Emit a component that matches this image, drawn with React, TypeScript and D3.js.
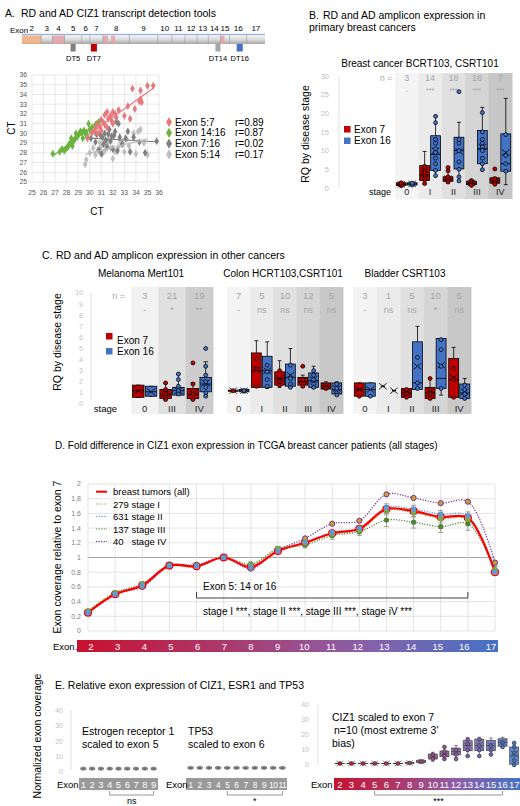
import React from 'react';
import * as d3 from 'd3';

type Stat = [number, number, number, number, number, number]; // min, q1, median, q3, max, mean
type Pt = [number, number];

const FONT = "'Liberation Sans', Arial, Helvetica, sans-serif";
const RED = '#C00000';
const BLUE = '#4472C4';

// ---- A. gene model and detection amplicons
const geneExons = ['2', '3', '4', '5', '6', '7', '8', '9', '10', '11', '12', '13', '14', '15', '16', '17'];
const geneExonLengths = [19, 11, 12, 17, 8, 13, 26, 28, 14, 13, 12, 11, 12, 9, 17, 18];
const geneMarks: [number, number, string][] = [[0, 19, '#F4B183'], [30, 42, '#E6A5AC'], [80, 85, '#E6A5AC'], [88, 92, '#E6A5AC'], [196, 200, '#E6A5AC']];
const probes = [
  { name: 'DT5', from: 48, to: 53, color: '#808080' },
  { name: 'DT7', from: 68, to: 74, color: '#C00000' },
  { name: 'DT14', from: 191, to: 196, color: '#A6A6A6' },
  { name: 'DT16', from: 212, to: 218, color: '#4472C4' },
];

// ---- A. CT scatter
const ct57: Pt[] = [[35.5, 34.9], [35, 34.9], [34.4, 34.4], [33.7, 34.6], [34.4, 33.5], [34.5, 33.2], [34.3, 33.3], [33.9, 32.5], [33.3, 32.8], [33, 31.8], [33.5, 31.5], [32.5, 32.4], [32, 32.2], [32.2, 32], [31.8, 31.8], [31.5, 32.2], [31.3, 31.9], [31, 31.4], [31.6, 31.5], [32.3, 31.6], [31.9, 31.3], [31.2, 31.1], [30.8, 30.8], [30.5, 30.5], [30.2, 30.1], [29.8, 29.5], [30.7, 30], [31, 30.3], [30.4, 30.2], [31.5, 30.6], [30.9, 30.6], [32, 31], [30.6, 31], [31.3, 30.9]];
const ct1416: Pt[] = [[26.8, 27.9], [27.4, 28.1], [27.8, 28.2], [28, 28.5], [28.2, 28.8], [28.3, 29], [28.5, 28.7], [28.6, 29.2], [28.7, 29.4], [28.9, 29.6], [29, 29.8], [29.1, 30], [29.3, 30.1], [29.5, 30.3], [29.6, 30], [29.2, 30.2], [29.8, 29.6], [30, 30.4], [30.2, 30.6], [30.5, 30.9], [30.8, 31.2], [29.9, 31], [28.4, 29.5], [28.8, 30], [27.6, 28.4], [29.4, 29.5], [28.1, 28.6], [29.7, 30.1]];
const ct716: Pt[] = [[30.1, 29.5], [30.5, 29.1], [30.8, 28.3], [30.9, 29.9], [31.1, 29.6], [31.2, 28.9], [31.3, 30], [31.4, 29.3], [31.5, 28.6], [31.6, 29.9], [31.7, 30.4], [31.8, 29.2], [32, 28.4], [32.1, 29.8], [32.2, 30.2], [32.3, 31.2], [32.5, 31], [32.6, 29.6], [32.8, 28.9], [33.1, 29.5], [33.5, 28.1], [33.8, 29.6], [34.3, 29.1], [34.8, 28], [35.8, 29.2], [31.9, 29.7], [31, 27.9], [32.4, 28.2], [33.3, 30.2], [30.6, 29.9]];
const ct514: Pt[] = [[29.6, 26.8], [29.7, 27.3], [30, 28], [30.3, 28.5], [30.5, 27.8], [30.7, 28.3], [31, 28.7], [31.1, 27.9], [31.3, 28.2], [31.5, 28.9], [31.8, 28.5], [32, 27.4], [32.2, 28.1], [32.5, 28.6], [32.6, 29.3], [32.9, 28.9], [33.2, 29.4], [33.4, 28.7], [33.8, 30], [34.2, 30.2], [34.4, 30.4], [34.7, 29], [35, 27.8], [34, 27.9], [33, 28.1], [31.6, 29.2], [30.9, 29], [32.1, 29.7]];
const ctSeries = [
  { name: 'Exon 5:7', r: 'r=0.89', color: '#E8787C', pts: ct57 },
  { name: 'Exon 14:16', r: 'r=0.87', color: '#6BB33F', pts: ct1416 },
  { name: 'Exon 7:16', r: 'r=0.02', color: '#808080', pts: ct716 },
  { name: 'Exon 5:14', r: 'r=0.17', color: '#BFBFBF', pts: ct514 },
];

// ---- B. breast cancer RQ
const breastStages = ['0', 'I', 'II', 'III', 'IV'];
const breastN = ['3', '14', '18', '18', '7'];
const breastSig = ['-', '***', '***', '***', '***'];
const breastExon7: Stat[] = [[0.5, 0.7, 1.0, 1.4, 1.6, 1.0], [1.0, 2.0, 3.5, 6.0, 9.8, 3.8], [1.3, 1.8, 2.3, 3.0, 5.5, 2.5], [0.6, 0.9, 1.2, 1.8, 2.2, 1.3], [1.0, 1.3, 2.0, 2.7, 2.9, 2.0]];
const breastExon7Pts = [[0.6, 1.0, 1.4], [1.2, 2.2, 3.0, 3.6, 4.2, 5.2, 5.8], [5.5, 4.6, 3.0, 2.2, 1.6], [2.0, 1.5, 1.0, 0.7], [5.1, 2.5, 1.5, 1.0]];
const breastExon16: Stat[] = [[0.6, 0.8, 1.1, 1.4, 1.6, 1.1], [3.3, 4.7, 9.0, 14.0, 19.2, 10.0], [1.9, 5.1, 10.0, 13.6, 17.6, 9.8], [4.9, 6.5, 10.5, 15.4, 21.6, 11.0], [0.9, 4.5, 6.5, 14.5, 24.0, 9.5]];
const breastExon16Pts = [[0.8, 1.3], [19.2, 17.5, 13.0, 12.0, 10.5, 9.5, 8.0, 6.5, 4.7, 3.3], [25.8, 13.0, 12.0, 10.0, 7.0, 5.0, 3.0, 1.9], [20.2, 15.0, 13.0, 12.0, 11.0, 10.0, 8.0, 6.5, 4.9], [14.3, 8.7, 6.5, 4.5]];

// ---- C. other cancers RQ
const melStages = ['0', 'III', 'IV'];
const melN = ['3', '21', '19'];
const melSig = ['-', '*', '**'];
const melExon7: Stat[] = [[0.6, 0.6, 1.2, 1.7, 1.7, 1.2], [0.4, 0.5, 0.9, 1.3, 1.9, 1.0], [0.4, 0.5, 0.9, 1.4, 1.9, 1.0]];
const melExon7Pts = [[], [1.9, 1.3, 0.9, 0.6, 0.4], [3.7, 1.8, 0.9, 0.4]];
const melExon16: Stat[] = [[0.7, 0.7, 1.1, 1.6, 1.6, 1.1], [0.8, 0.8, 1.2, 1.5, 2.7, 1.2], [0.7, 1.1, 1.8, 2.4, 3.8, 1.9]];
const melExon16Pts = [[], [2.7, 2.2, 1.6, 1.2, 0.9], [5.0, 3.4, 2.6, 2.0, 1.5, 1.0, 0.7]];

const colonStages = ['0', 'I', 'II', 'III', 'IV'];
const colonN = ['7', '5', '10', '12', '5'];
const colonSig = ['-', 'ns', 'ns', 'ns', 'ns'];
const colonExon7: Stat[] = [[1.1, 1.15, 1.2, 1.25, 1.3, 1.2], [1.5, 1.5, 3.0, 4.6, 5.7, 3.1], [1.5, 1.7, 2.3, 2.9, 3.9, 2.3], [1.5, 1.7, 2.0, 2.4, 2.6, 2.1], [1.3, 1.35, 1.6, 1.9, 2.0, 1.6]];
const colonExon7Pts = [[1.2], [4.1, 3.2, 1.6], [3.0, 2.0, 1.7], [3.4, 2.2, 1.6], [1.5, 1.4]];
const colonExon16: Stat[] = [[1.0, 1.1, 1.2, 1.3, 1.35, 1.2], [1.4, 1.5, 3.0, 4.3, 5.6, 3.0], [1.5, 1.6, 2.4, 3.6, 5.0, 2.6], [1.4, 1.5, 2.1, 2.8, 3.4, 2.2], [0.8, 0.9, 1.3, 1.9, 2.0, 1.4]];
const colonExon16Pts = [[1.2], [3.5, 2.9, 2.2, 1.6], [3.5, 2.3, 1.8, 1.5], [3.0, 2.6, 2.2, 1.8, 1.5], [1.8, 1.4, 1.0, 0.8]];

const bladderStages = ['0', 'I', 'II', 'III', 'IV'];
const bladderN = ['3', '1', '5', '10', '5'];
const bladderSig = ['-', 'ns', 'ns', '*', 'ns'];
const bladderExon7: Stat[] = [[0.7, 0.7, 1.3, 1.9, 1.9, 1.3], [1.6, 1.6, 1.6, 1.6, 1.6, 1.6], [0.6, 0.6, 1.0, 1.4, 1.4, 1.0], [0.4, 0.5, 1.0, 1.5, 2.3, 1.0], [0.6, 0.6, 2.2, 4.1, 5.1, 2.4]];
const bladderExon7Pts = [[0.7], [], [1.3, 0.9, 0.6], [2.3, 1.3, 0.9, 0.5], [3.2, 2.2, 0.6]];
const bladderExon16: Stat[] = [[0.7, 0.7, 1.3, 1.9, 1.9, 1.3], [1.2, 1.2, 1.2, 1.2, 1.2, 1.2], [1.3, 1.3, 1.9, 5.6, 7.0, 3.4], [0.8, 1.4, 2.3, 5.9, 5.9, 3.5], [0.4, 0.5, 1.0, 1.8, 2.3, 1.1]];
const bladderExon16Pts = [[0.7], [], [4.2, 1.9, 1.4], [5.8, 4.9, 3.4, 1.4], [1.7, 1.3, 0.9, 0.5]];

// ---- D. TCGA exon coverage relative to exon 7
const tcgaExons = [2, 3, 4, 5, 6, 7, 8, 9, 10, 11, 12, 13, 14, 15, 16, 17];
const tcgaAll = [0.25, 0.50, 0.62, 0.89, 0.88, 1.00, 0.87, 1.09, 1.20, 1.33, 1.39, 1.66, 1.63, 1.55, 1.54, 0.80];
const tcgaStageI = [0.27, 0.52, 0.64, 0.89, 0.89, 1.00, 0.90, 1.12, 1.20, 1.32, 1.37, 1.64, 1.61, 1.53, 1.52, 0.84];
const tcgaStageII = [0.25, 0.50, 0.62, 0.89, 0.88, 1.00, 0.87, 1.09, 1.21, 1.34, 1.40, 1.68, 1.66, 1.59, 1.57, 0.80];
const tcgaStageIII = [0.27, 0.52, 0.64, 0.90, 0.89, 1.00, 0.91, 1.12, 1.17, 1.30, 1.35, 1.51, 1.48, 1.42, 1.46, 0.83];
const tcgaStageIV = [0.25, 0.50, 0.60, 0.89, 0.90, 1.00, 0.85, 1.10, 1.26, 1.46, 1.50, 1.86, 1.81, 1.74, 1.76, 0.93];
const tcgaErrI = [0.01, 0.02, 0.02, 0.02, 0.02, 0, 0.02, 0.03, 0.03, 0.04, 0.04, 0.06, 0.06, 0.06, 0.06, 0.04];
const tcgaErrII = [0.01, 0.01, 0.01, 0.01, 0.01, 0, 0.02, 0.02, 0.03, 0.03, 0.03, 0.05, 0.05, 0.05, 0.05, 0.03];
const tcgaErrIII = [0.02, 0.02, 0.02, 0.02, 0.02, 0, 0.03, 0.03, 0.04, 0.05, 0.05, 0.09, 0.08, 0.08, 0.09, 0.05];

// ---- E. normalized exon coverage
const esr1Exons = ['1', '2', '3', '4', '5', '6', '7', '8', '9'];
const esr1Stats: Stat[] = [[1, 1.5, 2, 2.5, 3, 2], [1, 1.5, 2, 2.5, 3, 2], [1, 1.5, 2, 2.5, 3, 2], [1, 1.5, 2, 2.5, 3, 2], [1, 1.5, 2, 2.5, 3, 2], [1, 1.5, 2, 2.5, 3, 2], [1, 1.5, 2, 2.5, 3, 2], [1, 1.5, 2, 2.5, 3, 2], [1, 1.5, 2, 2.5, 3, 2]];
const tp53Exons = ['1', '2', '3', '4', '5', '6', '7', '8', '9', '10', '11'];
const tp53Stats: Stat[] = [[1.5, 2, 2.5, 3, 3.5, 2.5], [1.5, 2, 2.5, 3, 3.5, 2.5], [1.5, 2, 2.5, 3, 3.5, 2.5], [1.5, 2, 2.5, 3, 3.5, 2.5], [1.5, 2, 2.5, 3, 3.5, 2.5], [1.5, 2, 2.5, 3, 3.5, 2.5], [1.5, 2, 2.5, 3, 3.5, 2.5], [1.5, 2, 2.5, 3, 3.5, 2.5], [1.5, 2, 2.5, 3, 3.5, 2.5], [1.5, 2, 2.5, 3, 3.5, 2.5], [1.5, 2, 2.5, 3, 3.5, 2.5]];
const ciz1Exons = ['2', '3', '4', '5', '6', '7', '8', '9', '10', '11', '12', '13', '14', '15', '16', '17'];
const ciz1Stats: Stat[] = [[0.6, 0.8, 1, 1.2, 1.5, 1], [0.6, 0.8, 1, 1.2, 1.5, 1], [0.6, 0.8, 1, 1.2, 1.5, 1], [0.6, 0.8, 1, 1.2, 1.5, 1], [0.6, 0.8, 1, 1.2, 1.5, 1], [0.6, 0.8, 1, 1.2, 1.5, 1], [0.8, 1, 1.3, 1.6, 2, 1.3], [1.2, 1.6, 2.2, 3, 3.6, 2.3], [2.5, 4, 5.5, 7.3, 8.5, 5.6], [4, 5.5, 7.5, 9.3, 12, 7.7], [4, 6.7, 9, 11.3, 13, 9.2], [6, 9.5, 13, 16.2, 18, 13], [6, 9.5, 13, 17.3, 18.5, 13.3], [7, 9.5, 13, 16.5, 18, 13], [12, 12.5, 15, 17.5, 18.5, 15], [0, 0.5, 6, 12, 14.7, 7.5]];
const ciz1Pts = [[1], [1], [1], [1], [1], [1], [1.3], [2.2], [4, 7], [4, 6, 9, 12], [4, 7, 10], [6, 10, 14, 17], [6, 10, 13, 17], [7, 10, 13], [12, 15], [0, 3, 8, 12, 14.7]];

const exonColor = d3.piecewise(d3.interpolateRgb, ['#C8102E', '#AD3768', '#8C5FA8', '#4472C4']);

function BoxMark(props: { cx: number; w: number; y: d3.ScaleLinear<number, number>; s: Stat; fill: string; pts: number[]; r?: number; stroke?: string; sw?: number; op?: number }) {
  const { cx, w, y, s, fill, pts } = props;
  const r = props.r ?? 2;
  const stroke = props.stroke ?? '#000';
  const sw = props.sw ?? 0.8;
  const [mn, q1, md, q3, mx, mean] = s;
  const xs = w * 0.38;
  const ym = y(mean);
  const cap = w * 0.2;
  return (
    <g>
      <line x1={cx} x2={cx} y1={y(mx)} y2={y(mn)} stroke={stroke} strokeWidth={sw} />
      <line x1={cx - cap} x2={cx + cap} y1={y(mx)} y2={y(mx)} stroke={stroke} strokeWidth={sw} />
      <line x1={cx - cap} x2={cx + cap} y1={y(mn)} y2={y(mn)} stroke={stroke} strokeWidth={sw} />
      {q3 > q1 && <rect x={cx - w / 2} width={w} y={y(q3)} height={y(q1) - y(q3)} fill={fill} fillOpacity={props.op ?? 1} stroke={stroke} strokeWidth={sw} />}
      {q3 > q1 && <line x1={cx - w / 2} x2={cx + w / 2} y1={y(md)} y2={y(md)} stroke={stroke} strokeWidth={sw} />}
      <path d={`M${cx - xs},${ym - xs * 0.8}L${cx + xs},${ym + xs * 0.8}M${cx - xs},${ym + xs * 0.8}L${cx + xs},${ym - xs * 0.8}`} stroke={stroke} strokeWidth={sw} fill="none" />
      {pts.map((p, i) => <circle key={i} cx={cx} cy={y(p)} r={r} fill={fill} stroke={stroke} strokeWidth={0.7} />)}
    </g>
  );
}

function StagePanel(p: {
  stages: string[]; x0: number; x1: number; top: number; bottom: number; y: d3.ScaleLinear<number, number>;
  shades: string[]; n: string[]; sig: string[]; e7: Stat[]; e7pts: number[][]; e16: Stat[]; e16pts: number[][];
  nY: number; sigY: number; stageY: number; nSize: number; sigSize: number; stageSize: number;
}) {
  const band = d3.scaleBand<string>().domain(p.stages).range([p.x0, p.x1]);
  const sub = d3.scaleBand<string>().domain(['7', '16']).range([0, band.bandwidth()]).paddingInner(0.1).paddingOuter(0.12);
  const bw = sub.bandwidth();
  return (
    <g>
      {p.stages.map((s, i) => (
        <rect key={s} x={band(s)!} y={p.top} width={band.bandwidth() + 0.5} height={p.bottom - p.top} fill={p.shades[i]} />
      ))}
      {p.stages.map((s, i) => {
        const c = band(s)! + band.bandwidth() / 2;
        return (
          <g key={s} textAnchor="middle">
            <text x={c} y={p.nY} fontSize={p.nSize} fill="#A6A6A6">{p.n[i]}</text>
            <text x={c} y={p.sigY} fontSize={p.sigSize} fill="#A6A6A6">{p.sig[i]}</text>
            <text x={c} y={p.stageY} fontSize={p.stageSize} fill="#222">{s}</text>
          </g>
        );
      })}
      {p.stages.map((s, i) => (
        <g key={s}>
          <BoxMark cx={band(s)! + sub('7')! + bw / 2} w={bw} y={p.y} s={p.e7[i]} fill={RED} pts={p.e7pts[i]} />
          <BoxMark cx={band(s)! + sub('16')! + bw / 2} w={bw} y={p.y} s={p.e16[i]} fill={BLUE} pts={p.e16pts[i]} />
        </g>
      ))}
    </g>
  );
}

function fit(pts: Pt[]) {
  const mx = d3.mean(pts, d => d[0])!;
  const my = d3.mean(pts, d => d[1])!;
  let sxy = 0;
  let sxx = 0;
  pts.forEach(([a, b]) => { sxy += (a - mx) * (b - my); sxx += (a - mx) * (a - mx); });
  const k = sxy / sxx;
  const [x0, x1] = d3.extent(pts, d => d[0]) as [number, number];
  return { x0, x1, y0: my + k * (x0 - mx), y1: my + k * (x1 - mx) };
}

function PanelA() {
  const total = d3.sum(geneExonLengths);
  const g = d3.scaleLinear().domain([0, total]).range([22, 265]);
  const starts = [0];
  geneExonLengths.forEach(l => starts.push(starts[starts.length - 1] + l));
  const x = d3.scaleLinear().domain([25, 36]).range([32, 159]);
  const y = d3.scaleLinear().domain([25, 36]).range([182, 75]);
  const ticks = d3.range(25, 37);
  const diamond = d3.symbol(d3.symbolDiamond, 18)()!;
  return (
    <g>
      <text x={5} y={17} fontSize={10.5}>A.</text>
      <text x={21} y={17} fontSize={10.5}>RD and AD CIZ1 transcript detection tools</text>
      <defs>
        <linearGradient id="tube" x1="0" x2="0" y1="0" y2="1">
          <stop offset="0" stopColor="#C9D9F0" />
          <stop offset="0.2" stopColor="#F2F2F2" />
          <stop offset="0.6" stopColor="#D6D6D6" />
          <stop offset="1" stopColor="#A6A6A6" />
        </linearGradient>
      </defs>
      <text x={10} y={33} fontSize={8}>Exon</text>
      <rect x={g(0)} y={34} width={g(total) - g(0)} height={10} fill="url(#tube)" />
      {geneMarks.map(([a, b, c], i) => <rect key={i} x={g(a)} y={35.5} width={g(b) - g(a)} height={8} fill={c} opacity={0.9} />)}
      {starts.slice(1, -1).map((s, i) => <line key={i} x1={g(s)} x2={g(s)} y1={35} y2={44} stroke="#9A9A9A" strokeWidth={0.6} />)}
      <line x1={g(0)} x2={g(total)} y1={34.3} y2={34.3} stroke="#8FAADC" strokeWidth={1} />
      {geneExons.map((e, i) => <text key={e} x={g(starts[i] + geneExonLengths[i] / 2)} y={31} fontSize={8} textAnchor="middle">{e}</text>)}
      {probes.map(p => (
        <g key={p.name}>
          <rect x={g(p.from)} y={44} width={g(p.to) - g(p.from)} height={7.5} fill={p.color} />
          <text x={g((p.from + p.to) / 2)} y={61} fontSize={7.5} textAnchor="middle">{p.name}</text>
        </g>
      ))}
      {ticks.map(t => (
        <g key={t}>
          <line x1={x(t)} x2={x(t)} y1={y(25)} y2={y(36)} stroke="#D9D9D9" strokeWidth={0.6} />
          <line x1={x(25)} x2={x(36)} y1={y(t)} y2={y(t)} stroke="#D9D9D9" strokeWidth={0.6} />
          <text x={27} y={y(t) + 2.4} fontSize={6.8} textAnchor="end" fill="#595959">{t}</text>
          <text x={x(t)} y={194.5} fontSize={6.8} textAnchor="middle" fill="#595959">{t}</text>
        </g>
      ))}
      {ctSeries.slice().reverse().map(s => (
        <g key={s.name}>
          {s.pts.map((d, i) => <path key={i} d={diamond} transform={`translate(${x(d[0])},${y(d[1])})`} fill={s.color} />)}
        </g>
      ))}
      {ctSeries.map(s => {
        const f = fit(s.pts);
        return <line key={s.name} x1={x(f.x0)} x2={x(f.x1)} y1={y(f.y0)} y2={y(f.y1)} stroke={s.color} strokeWidth={1.1} />;
      })}
      <text transform="translate(11,128) rotate(-90)" fontSize={10} textAnchor="middle" dominantBaseline="central">CT</text>
      <text x={97} y={214.5} fontSize={10} textAnchor="middle">CT</text>
      {ctSeries.map((s, i) => (
        <g key={s.name}>
          <path d={d3.symbol(d3.symbolDiamond, 30)()!} transform={`translate(169,${122 + i * 10.8})`} fill={s.color} />
          <text x={175} y={125.5 + i * 10.8} fontSize={10}>{s.name}</text>
          <text x={235} y={125.5 + i * 10.8} fontSize={10}>{s.r}</text>
        </g>
      ))}
    </g>
  );
}

function PanelB() {
  const y = d3.scaleLinear().domain([0, 30]).range([188, 76]);
  return (
    <g>
      <text x={309} y={19} fontSize={10.5}>B.</text>
      <text x={323} y={19} fontSize={10.5}>RD and AD amplicon expression in</text>
      <text x={309} y={31} fontSize={10.5}>primary breast cancers</text>
      <text x={420} y={67} fontSize={10} textAnchor="middle">Breast cancer BCRT103, CSRT101</text>
      <StagePanel stages={breastStages} x0={395} x1={512} top={73} bottom={199} y={y}
        shades={['#F4F4F4', '#EBEBEB', '#E0E0E0', '#D4D4D4', '#C6C6C6']} n={breastN} sig={breastSig}
        e7={breastExon7} e7pts={breastExon7Pts} e16={breastExon16} e16pts={breastExon16Pts}
        nY={81} sigY={93} stageY={195} nSize={9} sigSize={7} stageSize={9} />
      <text x={392} y={81} fontSize={8.5} fill="#A6A6A6" textAnchor="end">n =</text>
      <line x1={339} x2={339} y1={76} y2={188} stroke="#D9D9D9" strokeWidth={0.8} />
      {y.ticks(6).map(t => <text key={t} x={329} y={y(t) + 2.6} fontSize={7.5} fill="#BFBFBF" textAnchor="end">{t}</text>)}
      <text transform="translate(305,134) rotate(-90)" fontSize={10.5} textAnchor="middle" dominantBaseline="central">RQ by disease stage</text>
      <text x={391} y={195} fontSize={9} textAnchor="end">stage</text>
      <rect x={344} y={126} width={6.5} height={6.5} fill={RED} />
      <text x={354} y={132.5} fontSize={10}>Exon 7</text>
      <rect x={344} y={137.5} width={6.5} height={6.5} fill={BLUE} />
      <text x={354} y={144} fontSize={10}>Exon 16</text>
    </g>
  );
}

function PanelC() {
  const y = d3.scaleLinear().domain([0, 10]).range([404, 293]);
  const common = { top: 287, bottom: 414, y, nY: 298.5, sigY: 312.5, stageY: 411.5, nSize: 9.5, sigSize: 9, stageSize: 9.5 };
  return (
    <g>
      <text x={42} y={259} fontSize={10.5}>C.</text>
      <text x={56} y={259} fontSize={10.5}>RD and AD amplicon expression in other cancers</text>
      <text x={141} y={277} fontSize={10} textAnchor="middle">Melanoma Mert101</text>
      <text x={283} y={277} fontSize={10} textAnchor="middle">Colon HCRT103,CSRT101</text>
      <text x={405} y={277} fontSize={10} textAnchor="middle">Bladder CSRT103</text>
      <StagePanel {...common} stages={melStages} x0={131} x1={213} shades={['#F2F2F2', '#E0E0E0', '#CDCDCD']}
        n={melN} sig={melSig} e7={melExon7} e7pts={melExon7Pts} e16={melExon16} e16pts={melExon16Pts} />
      <StagePanel {...common} stages={colonStages} x0={227} x1={343} shades={['#F4F4F4', '#EBEBEB', '#E0E0E0', '#D5D5D5', '#C8C8C8']}
        n={colonN} sig={colonSig} e7={colonExon7} e7pts={colonExon7Pts} e16={colonExon16} e16pts={colonExon16Pts} />
      <StagePanel {...common} stages={bladderStages} x0={353} x1={471} shades={['#F4F4F4', '#EBEBEB', '#E0E0E0', '#D5D5D5', '#C8C8C8']}
        n={bladderN} sig={bladderSig} e7={bladderExon7} e7pts={bladderExon7Pts} e16={bladderExon16} e16pts={bladderExon16Pts} />
      <text x={125} y={298.5} fontSize={9} fill="#A6A6A6" textAnchor="end">n =</text>
      <line x1={91} x2={91} y1={293} y2={400} stroke="#D9D9D9" strokeWidth={0.8} />
      {y.ticks(10).map(t => <text key={t} x={83} y={y(t) + 2.4} fontSize={7} fill="#BFBFBF" textAnchor="end">{t}</text>)}
      <text transform="translate(57,342) rotate(-90)" fontSize={10.5} textAnchor="middle" dominantBaseline="central">RQ by disease stage</text>
      <text x={117} y={411.5} fontSize={9.5} textAnchor="end">stage</text>
      <rect x={106} y={333} width={6.5} height={6.5} fill={RED} />
      <text x={117} y={343.5} fontSize={10}>Exon 7</text>
      <rect x={106} y={348} width={6.5} height={6.5} fill={BLUE} />
      <text x={117} y={355} fontSize={10}>Exon 16</text>
    </g>
  );
}

function PanelD() {
  const x = d3.scaleLinear().domain([2, 17]).range([88, 495]);
  const y = d3.scaleLinear().domain([0, 2]).range([631, 484]);
  const lx = d3.scaleLinear().domain([2, 17]).range([91, 491]);
  const line = d3.line<number>().x((_, i) => x(tcgaExons[i])).y(d => y(d)).curve(d3.curveCatmullRom);
  const stages = [
    { label: '279 stage I', v: tcgaStageI, err: tcgaErrI, color: '#70AD47', dash: '1.2,1.4' },
    { label: '631 stage II', v: tcgaStageII, err: tcgaErrII, color: '#5B9BD5', dash: '1.2,1.4' },
    { label: '137 stage III', v: tcgaStageIII, err: tcgaErrIII, color: '#548235', dash: '1.2,1.4' },
    { label: '40   stage IV', v: tcgaStageIV, err: null as number[] | null, color: '#7030A0', dash: '1.2,1.4' },
  ];
  const yTicks = [0, 0.2, 0.4, 0.6, 0.8, 1, 1.2, 1.4, 1.6, 1.8, 2];
  return (
    <g>
      <text x={55} y={449} fontSize={10}>D. Fold difference in CIZ1 exon expression in TCGA breast cancer patients (all stages)</text>
      {yTicks.map(t => (
        <g key={t}>
          <line x1={x(2)} x2={x(17)} y1={y(t)} y2={y(t)} stroke={t === 1 ? '#A6A6A6' : '#D9D9D9'} strokeWidth={t === 1 ? 1 : 0.7} />
          <text x={81} y={y(t) + 2.4} fontSize={7} fill="#7F7F7F" textAnchor="end">{t}</text>
        </g>
      ))}
      {tcgaExons.map(e => <line key={e} x1={x(e)} x2={x(e)} y1={y(0)} y2={y(2)} stroke="#D9D9D9" strokeWidth={0.7} />)}
      <text transform="translate(57,557) rotate(-90)" fontSize={10.5} textAnchor="middle" dominantBaseline="central">Exon coverage relative to exon 7</text>
      {stages.map(s => s.err && s.v.map((v, i) => s.err![i] > 0 && (
        <g key={`${s.label}${i}`} stroke="#8C8C8C" strokeWidth={0.8}>
          <line x1={x(tcgaExons[i])} x2={x(tcgaExons[i])} y1={y(v + s.err![i])} y2={y(v - s.err![i])} />
          <line x1={x(tcgaExons[i]) - 2.5} x2={x(tcgaExons[i]) + 2.5} y1={y(v + s.err![i])} y2={y(v + s.err![i])} />
          <line x1={x(tcgaExons[i]) - 2.5} x2={x(tcgaExons[i]) + 2.5} y1={y(v - s.err![i])} y2={y(v - s.err![i])} />
        </g>
      )))}
      {stages.slice().reverse().map(s => <path key={s.label} d={line(s.v)!} fill="none" stroke={s.color} strokeWidth={1.2} strokeDasharray={s.dash} />)}
      <path d={line(tcgaAll)!} fill="none" stroke="#FF0000" strokeWidth={2.2} />
      {tcgaAll.map((v, i) => <circle key={i} cx={x(tcgaExons[i])} cy={y(v)} r={3.4} fill="#F4B9A8" stroke="#FF0000" strokeWidth={1.4} />)}
      {tcgaStageIV.map((v, i) => <circle key={i} cx={x(tcgaExons[i])} cy={y(v)} r={2.6} fill="#C9A227" stroke="#7030A0" strokeWidth={1} />)}
      {tcgaStageIII.map((v, i) => <circle key={i} cx={x(tcgaExons[i])} cy={y(v)} r={2.6} fill="#548235" />)}
      {tcgaStageI.map((v, i) => <circle key={i} cx={x(tcgaExons[i])} cy={y(v)} r={2.6} fill="#70AD47" />)}
      {tcgaStageII.map((v, i) => <rect key={i} x={x(tcgaExons[i]) - 2.4} y={y(v) - 2.4} width={4.8} height={4.8} fill="#5B9BD5" />)}
      <line x1={96} x2={107} y1={491.7} y2={491.7} stroke="#FF0000" strokeWidth={2} />
      <text x={113} y={495} fontSize={9.5}>breast tumors (all)</text>
      {stages.map((s, i) => (
        <g key={s.label}>
          <line x1={96} x2={107} y1={504 + i * 12.5} y2={504 + i * 12.5} stroke={s.color} strokeWidth={1.2} strokeDasharray={s.dash} />
          <text x={113} y={507.5 + i * 12.5} fontSize={9.5} xmlSpace="preserve">{s.label}</text>
        </g>
      ))}
      <text x={203} y={590} fontSize={10}>Exon 5: 14 or 16</text>
      <path d={`M${x(6)},592V598H${x(16)}V592`} fill="none" stroke="#404040" strokeWidth={1} />
      <text x={203} y={615} fontSize={10}>stage I ***, stage II ***, stage III ***, stage iV ***</text>
      <defs>
        <linearGradient id="exbar" x1="0" x2="1" y1="0" y2="0">
          {d3.range(0, 1.01, 0.1).map(t => <stop key={t} offset={t} stopColor={exonColor(t)} />)}
        </linearGradient>
      </defs>
      <rect x={77} y={640} width={421} height={12} fill="url(#exbar)" />
      <text x={53} y={649.5} fontSize={9.5}>Exon.</text>
      {tcgaExons.map(e => <text key={e} x={lx(e)} y={649.5} fontSize={9.5} fill="#fff" textAnchor="middle">{e}</text>)}
    </g>
  );
}

function Bracket({ a, b, yy, label }: { a: number; b: number; yy: number; label: string }) {
  return (
    <g>
      <path d={`M${a},${yy - 4}V${yy}H${b}V${yy - 4}`} fill="none" stroke="#7F7F7F" strokeWidth={0.8} />
      <text x={(a + b) / 2} y={yy + 8.5} fontSize={9} textAnchor="middle">{label}</text>
    </g>
  );
}

function PanelE() {
  const yL = d3.scaleLinear().domain([0, 40]).range([771.7, 710.7]);
  const yR = d3.scaleLinear().domain([0, 40]).range([765, 705]);
  const esrX = d3.scaleBand<string>().domain(esr1Exons).range([79, 158]);
  const tpX = d3.scaleBand<string>().domain(tp53Exons).range([186, 287]);
  const czX = d3.scaleBand<string>().domain(ciz1Exons).range([334, 520]);
  const c = (s: d3.ScaleBand<string>, e: string) => s(e)! + s.bandwidth() / 2;
  return (
    <g>
      <text x={55} y={689} fontSize={10.5}>E. Relative exon expression of CIZ1, ESR1 and TP53</text>
      <text transform="translate(37,736) rotate(-90)" fontSize={10.5} textAnchor="middle" dominantBaseline="central">Normalized exon coverage</text>
      <line x1={71} x2={71} y1={710} y2={770} stroke="#D9D9D9" strokeWidth={0.8} />
      {yL.ticks(4).map(t => <text key={t} x={63} y={yL(t) + 2.4} fontSize={7} fill="#BFBFBF" textAnchor="end">{t}</text>)}
      <text x={82} y={734.5} fontSize={10.5}>Estrogen receptor 1</text>
      <text x={82} y={747.5} fontSize={10.5}>scaled to exon 5</text>
      <text x={188} y={734.5} fontSize={10.5}>TP53</text>
      <text x={188} y={747.5} fontSize={10.5}>scaled to exon 6</text>
      {esr1Exons.map((e, i) => <BoxMark key={e} cx={c(esrX, e)} w={esrX.bandwidth() * 0.6} y={yL} s={esr1Stats[i]} fill="#D9D9D9" pts={[]} stroke="#595959" sw={0.6} />)}
      {tp53Exons.map((e, i) => <BoxMark key={e} cx={c(tpX, e)} w={tpX.bandwidth() * 0.6} y={yL} s={tp53Stats[i]} fill="#D9D9D9" pts={[]} stroke="#595959" sw={0.6} />)}
      <rect x={79} y={778} width={79} height={12} fill="#999" />
      <rect x={186} y={778} width={101} height={12} fill="#999" />
      <text x={57} y={788} fontSize={9.5}>Exon</text>
      <text x={166} y={788} fontSize={9.5}>Exon</text>
      {esr1Exons.map(e => <text key={e} x={c(esrX, e)} y={788} fontSize={9.5} fill="#fff" textAnchor="middle">{e}</text>)}
      {tp53Exons.map(e => <text key={e} x={c(tpX, e)} y={788} fontSize={8.3} fill="#fff" textAnchor="middle" letterSpacing={-0.3}>{e}</text>)}
      <Bracket a={c(esrX, '4')} b={c(esrX, '9')} yy={795} label="ns" />
      <Bracket a={c(tpX, '5')} b={c(tpX, '11')} yy={795} label="*" />

      <line x1={318} x2={318} y1={705} y2={765} stroke="#D9D9D9" strokeWidth={0.8} />
      {yR.ticks(4).map(t => <text key={t} x={309} y={yR(t) + 2.4} fontSize={7} fill="#BFBFBF" textAnchor="end">{t}</text>)}
      <text x={332} y={721} fontSize={10.5}>CIZ1 scaled to exon 7</text>
      <text x={334} y={734} fontSize={10.5}>n=10 (most extreme 3'</text>
      <text x={332} y={747} fontSize={10.5}>bias)</text>
      {ciz1Exons.map((e, i) => {
        const col = exonColor(i / (ciz1Exons.length - 1));
        return <BoxMark key={e} cx={c(czX, e)} w={czX.bandwidth() * 0.78} y={yR} s={ciz1Stats[i]} fill={col} pts={ciz1Pts[i]} stroke="#3A3A3A" sw={0.6} r={1.9} op={0.85} />;
      })}
      <rect x={334} y={778} width={186} height={12} fill="url(#exbar)" />
      <text x={311} y={788} fontSize={9.5}>Exon</text>
      {ciz1Exons.map(e => <text key={e} x={c(czX, e)} y={788} fontSize={9.5} fill="#fff" textAnchor="middle">{e}</text>)}
      <Bracket a={c(czX, '5')} b={c(czX, '16')} yy={795} label="***" />
    </g>
  );
}

export default function App() {
  return (
    <svg width={520} height={806} viewBox="0 0 520 806" fontFamily={FONT}
      style={{ position: 'absolute', left: 0, top: 0, background: '#fff' }}>
      <PanelA />
      <PanelB />
      <PanelC />
      <PanelD />
      <PanelE />
    </svg>
  );
}
